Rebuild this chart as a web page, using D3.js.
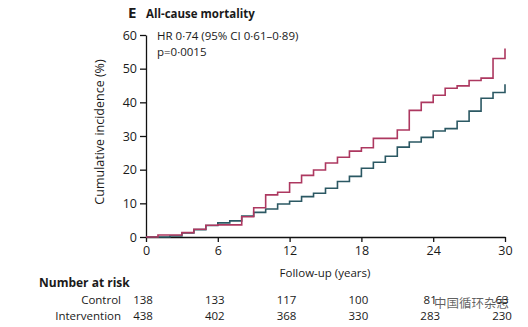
<!DOCTYPE html>
<html lang="en">
<head>
<meta charset="utf-8">
<title>All-cause mortality</title>
<script src="https://cdnjs.cloudflare.com/ajax/libs/d3/7.8.5/d3.min.js"></script>
<style>
  body { margin:0; background:#fff; }
  text { font-family: "Open Sans", "DejaVu Sans", sans-serif; fill:#1a1a1a; }
</style>
</head>
<body>
<svg id="chart" width="528" height="327"></svg>
<script>
// cumulative incidence (%) at start of each year, step after
var years = [0,1,2,3,4,5,6,7,8,9,10,11,12,13,14,15,16,17,18,19,20,21,22,23,24,25,26,27,28,29,30]
var control = [0,0.6,0.6,1.3,2.3,3.5,3.6,3.6,6.0,8.7,12.5,13.3,16.1,18.3,19.9,22.0,23.7,25.5,26.5,29.3,29.3,31.8,37.6,40.0,42.1,44.2,44.9,46.5,47.2,53.0,56.0]
var intervention = [0,0,0.3,1.2,2.2,3.4,4.2,4.8,6.2,7.3,8.3,9.8,10.6,12.0,13.0,14.5,16.5,18.0,20.4,22.2,24.0,26.7,28.2,29.6,31.5,32.2,34.4,37.4,41.2,42.9,45.4]

var xTicks = [0,6,12,18,24,30]
var yTicks = [0,10,20,30,40,50,60]
var riskGroups = ["Control", "Intervention"]
var riskControl = [138,133,117,100,81,63]
var riskIntervention = [438,402,368,330,283,230]

var svg = d3.select("#chart")

var x = d3.scaleLinear().domain([0,30]).range([146,505])
var y = d3.scaleLinear().domain([0,60]).range([237,35])

// title
svg.append("text").attr("x",128).attr("y",18).attr("font-size","15px").attr("font-weight","bold").text("E")
svg.append("text").attr("x",146).attr("y",18).attr("font-size","11.5px").attr("font-weight","bold").text("All-cause mortality")

// axes
svg.append("g").attr("transform","translate(0,237)")
  .call(d3.axisBottom(x).tickValues(xTicks).tickSize(5).tickSizeOuter(0).tickPadding(4))
svg.append("g").attr("transform","translate(146,0)")
  .call(d3.axisLeft(y).tickValues(yTicks).tickSize(6).tickSizeOuter(0).tickPadding(3))

svg.selectAll(".domain, .tick line").attr("stroke","#111").attr("stroke-width",1.3)
svg.selectAll(".tick text").attr("font-size","12.5px").attr("fill","#222")
  .style("font-family","'Open Sans', sans-serif")

svg.append("text").attr("x",325).attr("y",277).attr("text-anchor","middle")
  .attr("font-size","11.5px").text("Follow-up (years)")
svg.append("text").attr("transform","translate(104,132) rotate(-90)").attr("text-anchor","middle")
  .attr("font-size","12.5px").text("Cumulative incidence (%)")

// annotations
svg.append("text").attr("x",157).attr("y",40).attr("font-size","11.5px").text("HR 0·74 (95% CI 0·61–0·89)")
svg.append("text").attr("x",157).attr("y",56).attr("font-size","11.5px").text("p=0·0015")

// step lines
var line = d3.line().curve(d3.curveStepAfter)
  .x(function(d){ return x(d[0]) }).y(function(d){ return y(d[1]) })

svg.append("path").datum(years.map(function(t,i){ return [t, intervention[i]] }))
  .attr("d", line).attr("fill","none").attr("stroke","#2b5863").attr("stroke-width",1.6)
svg.append("path").datum(years.map(function(t,i){ return [t, control[i]] }))
  .attr("d", line).attr("fill","none").attr("stroke","#ad3860").attr("stroke-width",1.6)

// number at risk
svg.append("text").attr("x",39).attr("y",287).attr("font-size","12px").attr("font-weight","bold").text("Number at risk")
var rows = [riskControl, riskIntervention]
rows.forEach(function(vals, r){
  var yy = 304 + r*16
  svg.append("text").attr("x",121).attr("y",yy).attr("text-anchor","end")
    .attr("font-size","11.5px").text(riskGroups[r])
  svg.selectAll(null).data(vals).enter().append("text")
    .attr("x", function(d,i){ return x(xTicks[i]) - 3 })
    .attr("y", yy).attr("text-anchor","middle").attr("font-size","11.5px")
    .text(function(d){ return d })
})

// watermark (sits over the control row in the source image)
svg.append("text").attr("x",434).attr("y",308).attr("font-size","12.5px")
  .attr("fill","#999").attr("fill-opacity",0.7)
  .style("font-family","'Noto Sans CJK SC', sans-serif").text("中国循环杂志")
</script>
</body>
</html>
